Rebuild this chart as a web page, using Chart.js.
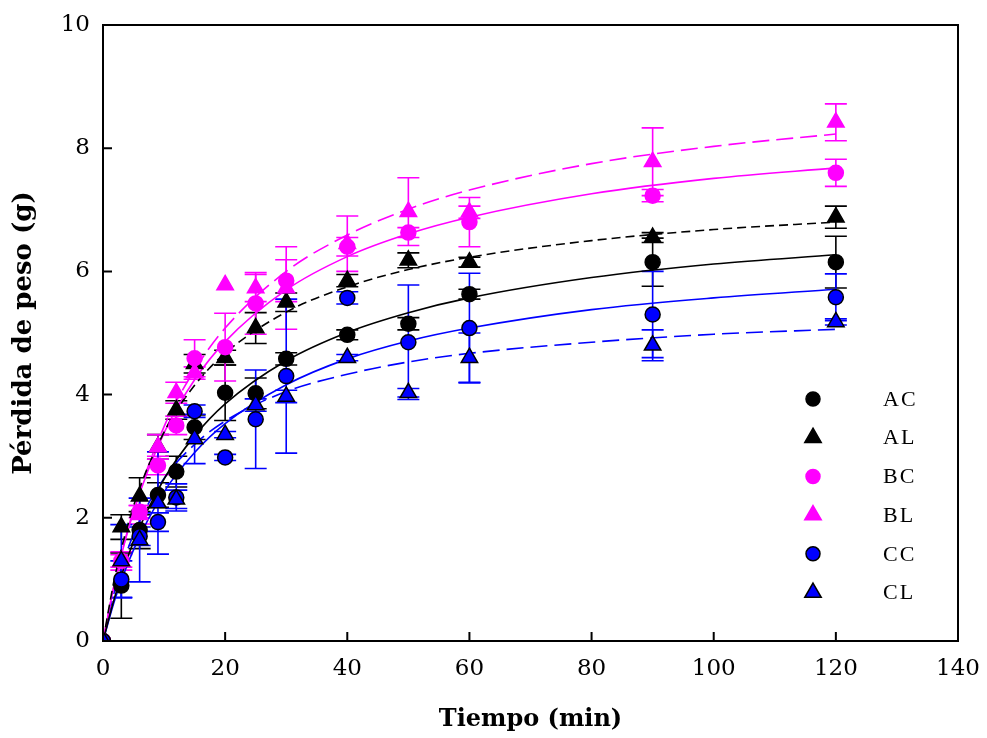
<!DOCTYPE html>
<html>
<head>
<meta charset="utf-8">
<script src="https://cdn.jsdelivr.net/npm/chart.js@4.4.0/dist/chart.umd.min.js"></script>
<style>
  html, body { margin: 0; padding: 0; background: #fff; }
  #wrap { width: 987px; height: 738px; }
</style>
</head>
<body>
<div id="wrap"><canvas id="chart" width="987" height="738"></canvas></div>
<script>
// measured points (min, g)
const times = [0, 3, 6, 9, 12, 15, 20, 25, 30, 40, 50, 60, 90, 120];
const ac = [0, 0.9, 1.8, 2.37, 2.75, 3.47, 4.03, 4.02, 4.58, 4.97, 5.15, 5.63, 6.15, 6.15];
const acErr = [0, 0.53, 0.3, 0.2, 0.25, 0.2, 0.45, 0.25, 0.1, 0.08, 0.1, 0.08, 0.39, 0.42];
const al = [0, 1.85, 2.35, 3.15, 3.75, 4.5, 4.6, 5.08, 5.5, 5.85, 6.18, 6.15, 6.55, 6.88];
const alErr = [0, 0.2, 0.3, 0.2, 0.15, 0.15, 0.12, 0.25, 0.15, 0.1, 0.12, 0.08, 0.08, 0.18];
const bc = [0, 1.3, 2.1, 2.85, 3.5, 4.59, 4.77, 5.48, 5.85, 6.4, 6.63, 6.8, 7.23, 7.6];
const bcErr = [0, 0.1, 0.1, 0.15, 0.15, 0.3, 0.55, 0.5, 0.34, 0.15, 0.08, 0.4, 0.1, 0.22];
const bl = [0, 1.3, 2.05, 3.15, 4.03, 4.35, 5.78, 5.73, 5.73, 6.45, 6.97, 6.96, 7.78, 8.42];
const blErr = [0, 0.15, 0.15, 0.2, 0.17, 0.1, 0, 0.22, 0.67, 0.45, 0.55, 0.1, 0.55, 0.3];
const cc = [0, 1.0, 1.7, 1.93, 2.33, 3.73, 2.98, 3.6, 4.3, 5.57, 4.85, 5.08, 5.3, 5.58];
const ccErr = [0, 0.3, 0.15, 0.15, 0.22, 0.1, 0.05, 0.8, 1.25, 0.1, 0.93, 0.89, 0.7, 0.38];
const cl = [0, 1.3, 1.64, 2.24, 2.3, 3.28, 3.35, 3.83, 3.97, 4.6, 4.03, 4.6, 4.8, 5.18];
const clErr = [0, 0.59, 0.68, 0.83, 0.15, 0.4, 0.05, 0.1, 0.1, 0.05, 0.07, 0.4, 0.25, 0.05];

// fitted curves
const fitTimes = [0, 2, 5, 10, 15, 20, 30, 40, 50, 60, 80, 100, 120];
const acFit = [0, 0.74, 1.61, 2.63, 3.33, 3.85, 4.55, 5.01, 5.33, 5.57, 5.90, 6.12, 6.27];
const alFit = [0, 1.07, 2.19, 3.39, 4.15, 4.67, 5.34, 5.75, 6.03, 6.23, 6.50, 6.68, 6.80];
const bcFit = [0, 0.98, 2.10, 3.38, 4.24, 4.86, 5.70, 6.24, 6.61, 6.88, 7.26, 7.51, 7.68];
const blFit = [0, 0.99, 2.13, 3.48, 4.40, 5.08, 6.00, 6.59, 7.01, 7.32, 7.75, 8.03, 8.23];
const ccFit = [0, 0.69, 1.48, 2.42, 3.06, 3.53, 4.16, 4.58, 4.87, 5.08, 5.38, 5.57, 5.71];
const clFit = [0, 0.85, 1.73, 2.64, 3.19, 3.57, 4.05, 4.33, 4.53, 4.67, 4.85, 4.98, 5.06];

const xTicks = [0, 20, 40, 60, 80, 100, 120, 140];
const yTicks = [0, 2, 4, 6, 8, 10];
const legendLabels = ["AC", "AL", "BC", "BL", "CC", "CL"];

const BLACK = "#000000";
const PINK = "#ff00ff";
const BLUE = "#0000ff";

const toXY = (xs, ys) => xs.map((t, i) => ({ x: t, y: ys[i] }));

const pointSet = (label, ys, errs, color, shape, edge, order) => ({
  type: "scatter",
  label: label,
  data: toXY(times, ys),
  errors: errs,
  barColor: color,
  showLine: false,
  pointStyle: shape,
  pointRadius: shape === "triangle" ? 9.5 : 7.5,
  pointBackgroundColor: color,
  pointBorderColor: edge,
  pointBorderWidth: 1.5,
  order: order,
});

const curveSet = (ys, color, dash) => ({
  type: "line",
  data: toXY(fitTimes, ys),
  borderColor: color,
  borderWidth: 1.6,
  borderDash: dash,
  pointRadius: 0,
  cubicInterpolationMode: "monotone",
  fill: false,
  order: 20,
});

const markers = [
  { color: BLACK, edge: BLACK, shape: "circle" },
  { color: BLACK, edge: BLACK, shape: "triangle" },
  { color: PINK, edge: PINK, shape: "circle" },
  { color: PINK, edge: PINK, shape: "triangle" },
  { color: BLUE, edge: BLACK, shape: "circle" },
  { color: BLUE, edge: BLACK, shape: "triangle" },
];

const errorBars = {
  id: "errorBars",
  beforeDatasetsDraw(chart) {
    const { ctx } = chart;
    const x = chart.scales.x;
    const y = chart.scales.y;
    chart.data.datasets.forEach((ds) => {
      if (!ds.errors) return;
      ctx.save();
      ctx.strokeStyle = ds.barColor;
      ctx.lineWidth = 1.6;
      ds.data.forEach((p, i) => {
        const e = ds.errors[i];
        if (!e) return;
        const px = x.getPixelForValue(p.x);
        const top = y.getPixelForValue(p.y + e);
        const bot = y.getPixelForValue(p.y - e);
        ctx.beginPath();
        ctx.moveTo(px, top);
        ctx.lineTo(px, bot);
        ctx.moveTo(px - 11, top);
        ctx.lineTo(px + 11, top);
        ctx.moveTo(px - 11, bot);
        ctx.lineTo(px + 11, bot);
        ctx.stroke();
      });
      ctx.restore();
    });
  },
};

const frame = {
  id: "frame",
  afterDraw(chart) {
    const { ctx, chartArea: a } = chart;
    const x = chart.scales.x;
    const y = chart.scales.y;
    ctx.save();
    ctx.strokeStyle = BLACK;
    ctx.lineWidth = 2;
    ctx.strokeRect(a.left, a.top, a.right - a.left, a.bottom - a.top);
    ctx.beginPath();
    xTicks.forEach((v) => {
      const px = x.getPixelForValue(v);
      ctx.moveTo(px, a.bottom);
      ctx.lineTo(px, a.bottom - 9);
    });
    yTicks.forEach((v) => {
      const py = y.getPixelForValue(v);
      ctx.moveTo(a.left, py);
      ctx.lineTo(a.left + 9, py);
    });
    ctx.stroke();
    ctx.restore();
  },
};

const sideLegend = {
  id: "sideLegend",
  afterDraw(chart) {
    const { ctx } = chart;
    ctx.save();
    ctx.font = "22px 'Liberation Serif'";
    ctx.textBaseline = "middle";
    ctx.letterSpacing = "2px";
    legendLabels.forEach((label, i) => {
      const m = markers[i];
      const cy = 399 + i * 38.7;
      const cx = 813;
      ctx.fillStyle = m.color;
      ctx.strokeStyle = m.edge;
      ctx.lineWidth = 1.5;
      ctx.beginPath();
      if (m.shape === "circle") {
        ctx.arc(cx, cy, 7, 0, Math.PI * 2);
      } else {
        const r = 9.5;
        ctx.moveTo(cx, cy - r);
        ctx.lineTo(cx + r * 0.866, cy + r * 0.5);
        ctx.lineTo(cx - r * 0.866, cy + r * 0.5);
        ctx.closePath();
      }
      ctx.fill();
      ctx.stroke();
      ctx.fillStyle = BLACK;
      ctx.fillText(label, 883, cy + 1);
    });
    ctx.restore();
  },
};

const ctx = document.getElementById("chart").getContext("2d");
new Chart(ctx, {
  data: {
    datasets: [
      pointSet("AC", ac, acErr, BLACK, "circle", BLACK, 6),
      pointSet("AL", al, alErr, BLACK, "triangle", BLACK, 5),
      pointSet("BC", bc, bcErr, PINK, "circle", PINK, 4),
      pointSet("BL", bl, blErr, PINK, "triangle", PINK, 3),
      pointSet("CC", cc, ccErr, BLUE, "circle", BLACK, 2),
      pointSet("CL", cl, clErr, BLUE, "triangle", BLACK, 1),
      curveSet(acFit, BLACK, []),
      curveSet(alFit, BLACK, [9, 5]),
      curveSet(bcFit, PINK, []),
      curveSet(blFit, PINK, [17, 7]),
      curveSet(ccFit, BLUE, []),
      curveSet(clFit, BLUE, [17, 7]),
    ],
  },
  options: {
    responsive: false,
    animation: false,
    layout: { padding: { left: 0, right: 29, top: 25, bottom: 0 } },
    plugins: {
      legend: { display: false },
      tooltip: { enabled: false },
    },
    scales: {
      x: {
        type: "linear",
        min: 0,
        max: 140,
        afterFit: (s) => {
          s.height = 97;
          s.paddingLeft = 0;
          s.paddingRight = 0;
        },
        afterBuildTicks: (s) => { s.ticks = xTicks.map((v) => ({ value: v })); },
        grid: { display: false, drawTicks: false },
        border: { display: false },
        ticks: {
          color: BLACK,
          padding: 14,
          font: { family: "'DejaVu Serif'", size: 23 },
        },
        title: {
          display: true,
          text: "Tiempo (min)",
          color: BLACK,
          padding: { top: 0, bottom: 4 },
          font: { family: "'DejaVu Serif'", size: 24, weight: "bold" },
        },
      },
      y: {
        type: "linear",
        min: 0,
        max: 10,
        afterFit: (s) => {
          s.width = 103;
          s.paddingTop = 0;
          s.paddingBottom = 0;
        },
        afterBuildTicks: (s) => { s.ticks = yTicks.map((v) => ({ value: v })); },
        grid: { display: false, drawTicks: false },
        border: { display: false },
        ticks: {
          color: BLACK,
          padding: 13,
          font: { family: "'DejaVu Serif'", size: 23 },
        },
        title: {
          display: true,
          text: "Pérdida de peso (g)",
          color: BLACK,
          padding: { top: 9, bottom: 0 },
          font: { family: "'DejaVu Serif'", size: 26, weight: "bold" },
        },
      },
    },
  },
  plugins: [errorBars, frame, sideLegend],
});
</script>
</body>
</html>
